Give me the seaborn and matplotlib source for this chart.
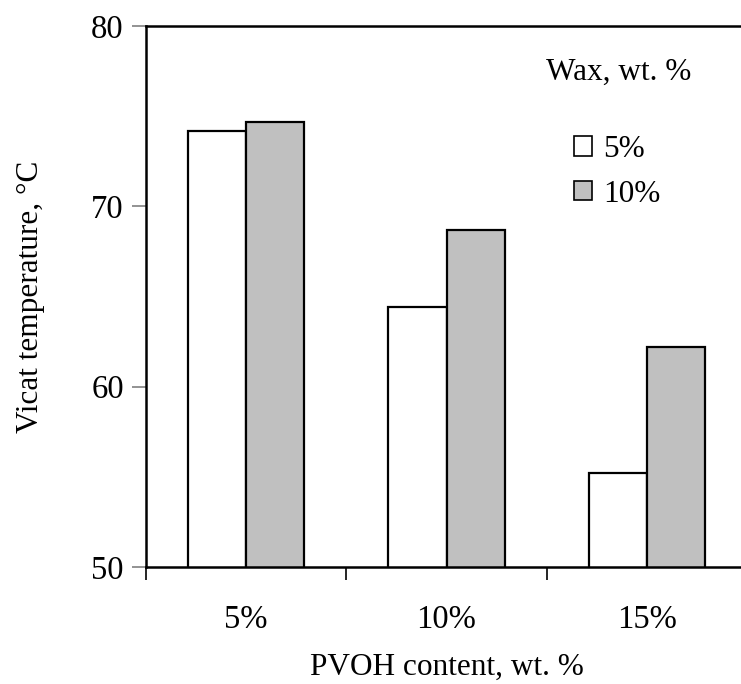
import matplotlib
matplotlib.use("Agg")
import matplotlib.pyplot as plt
import seaborn as sns
import pandas as pd
from matplotlib.patches import Patch

pvoh = ["5%", "10%", "15%"]
wax_levels = ["5%", "10%"]
wax5 = [74.2, 64.4, 55.2]
wax10 = [74.7, 68.7, 62.2]
yticks = [50, 60, 70, 80]
colors = ["white", "#C0C0C0"]

df = pd.DataFrame({
    "PVOH": pvoh * 2,
    "Wax": [wax_levels[0]] * 3 + [wax_levels[1]] * 3,
    "temp": wax5 + wax10,
})

sns.set_style("ticks")
plt.rcParams['font.family'] = ['Liberation Serif', 'DejaVu Serif']
plt.rcParams['text.color'] = 'black'
plt.rcParams['axes.labelcolor'] = 'black'
plt.rcParams['xtick.color'] = 'black'
plt.rcParams['ytick.color'] = 'black'

fig = plt.figure(figsize=(7.41, 6.84), dpi=100)
W, H = 741, 684
x0, x1 = 146, 747
y_top, y_bot = 26, 567
ax = fig.add_axes([x0 / W, (H - y_bot) / H, (x1 - x0) / W, (y_bot - y_top) / H])

sns.barplot(data=df, x="PVOH", y="temp", hue="Wax", order=pvoh, hue_order=wax_levels,
            palette=colors, edgecolor="black", linewidth=1.6, width=0.58,
            saturation=1, ax=ax, legend=False)

TICK_FS = 23.5
LAB_FS = 22.5
ax.set_ylim(50, 80)
ax.set_yticks(yticks)
ax.set_yticklabels([str(v) for v in yticks], fontsize=TICK_FS)
ax.set_xlim(-0.5, 2.5)
ax.set_xticks([-0.5, 0.5, 1.5, 2.5])
ax.set_xticklabels([])
ax.set_xticks([0, 1, 2], minor=True)
ax.set_xticklabels(pvoh, minor=True, fontsize=TICK_FS)
ax.tick_params(axis="x", which="minor", length=0, pad=27, labelcolor="black")
ax.tick_params(axis="x", which="major", length=9, width=1.2, color="black", direction="out")
ax.tick_params(axis="y", length=10, width=1.2, color="#808080", direction="out", pad=6,
               labelcolor="black")

for s in ["left", "bottom", "top"]:
    ax.spines[s].set_visible(True)
    ax.spines[s].set_linewidth(1.8)
    ax.spines[s].set_color("black")
ax.spines["right"].set_visible(False)

ax.set_xlabel("PVOH content, wt. %", fontsize=LAB_FS, color="black")
ax.set_ylabel("Vicat temperature, \u00b0C", fontsize=LAB_FS, color="black")
ax.yaxis.set_label_coords(-0.168, 0.5)
ax.xaxis.set_label_coords(0.5, -0.158)

handles = [Patch(facecolor=c, edgecolor="black", linewidth=1.2) for c in colors]
leg = ax.legend(handles, wax_levels, loc="upper left",
                bbox_to_anchor=((574 - x0) / (x1 - x0), (y_bot - 135) / (y_bot - y_top)),
                frameon=False, fontsize=LAB_FS, handlelength=0.58, handleheight=0.58,
                handletextpad=0.35, labelspacing=0.5, borderaxespad=0, borderpad=0)
ax.text((619 - x0) / (x1 - x0), (y_bot - 72) / (y_bot - y_top), "Wax, wt. %",
        transform=ax.transAxes, ha="center", va="center", fontsize=LAB_FS, color="black")

fig.savefig("out.png", dpi=100)
